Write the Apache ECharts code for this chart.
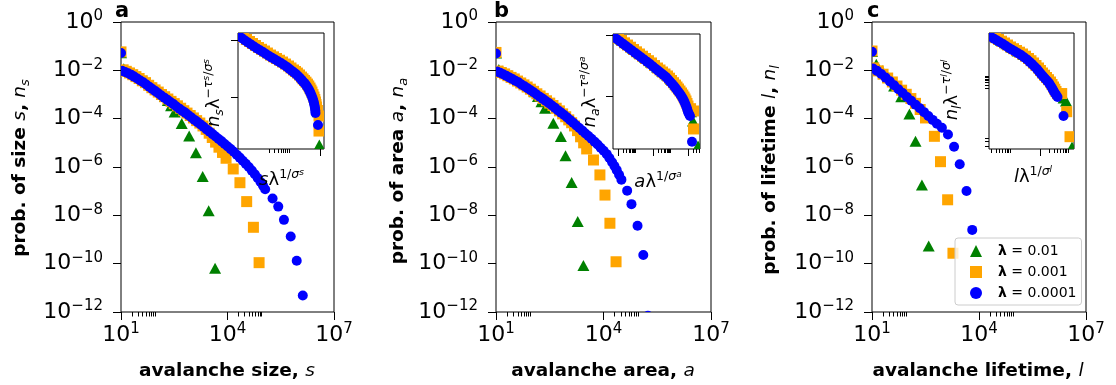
<!DOCTYPE html>
<html>
<head>
<meta charset="utf-8">
<script src="https://cdn.jsdelivr.net/npm/echarts@6/dist/echarts.min.js"></script>
<style>
  html, body { margin: 0; padding: 0; background: #fff; }
  #chart { width: 1116px; height: 385px; }
</style>
</head>
<body>
<div id="chart"></div>
<script>
// ---------- avalanche distributions: [value, probability] ----------
// (a) size s
const sizeL01 = [[10, 5.4e-2], [12.0, 1.17e-2], [14.8, 1.02e-2], [18.2, 8.9e-3], [22.4, 7.6e-3], [27.5, 6.5e-3], [33.9, 5.4e-3], [41.7, 4.5e-3], [51.3, 3.6e-3], [63.1, 3.0e-3], [77.6, 2.4e-3], [95.5, 1.9e-3], [116, 1.51e-3], [141, 1.17e-3], [172, 8.3e-4], [209, 5.6e-4], [257, 3.4e-4], [324, 1.9e-4], [513, 6.3e-5], [832, 1.9e-5], [1290, 3.9e-6], [2000, 4.0e-7], [2950, 1.55e-8], [4470, 6.5e-11]];
const sizeL001 = [[10, 5.8e-2], [11.5, 1.05e-2], [14.1, 9.1e-3], [17.4, 7.8e-3], [21.4, 6.6e-3], [26.3, 5.5e-3], [32.4, 4.6e-3], [39.8, 3.7e-3], [49.0, 3.1e-3], [60.3, 2.4e-3], [74.1, 1.91e-3], [91.2, 1.55e-3], [112, 1.26e-3], [138, 1.0e-3], [170, 8.1e-4], [209, 6.5e-4], [257, 5.2e-4], [316, 4.2e-4], [389, 3.4e-4], [479, 2.7e-4], [589, 2.14e-4], [724, 1.70e-4], [891, 1.35e-4], [1096, 1.07e-4], [1350, 8.3e-5], [1660, 6.6e-5], [2040, 5.0e-5], [2510, 3.6e-5], [3050, 2.5e-5], [3720, 1.66e-5], [4620, 1.07e-5], [5750, 6.6e-6], [7240, 4.0e-6], [9120, 2.3e-6], [1.45e4, 8.3e-7], [2.24e4, 2.24e-7], [3.47e4, 3.7e-8], [5.37e4, 3.2e-9], [7.76e4, 1.10e-10]];
const sizeL0001 = [[10, 5.2e-2], [10.7, 9.5e-3], [13.0, 8.5e-3], [15.8, 7.6e-3], [19.3, 6.5e-3], [23.4, 5.5e-3], [28.5, 4.6e-3], [34.7, 3.8e-3], [42.2, 3.2e-3], [51.3, 2.6e-3], [62.4, 2.1e-3], [75.9, 1.7e-3], [92.3, 1.38e-3], [112, 1.12e-3], [136, 9.1e-4], [166, 7.4e-4], [202, 6.0e-4], [245, 4.9e-4], [299, 4.0e-4], [363, 3.2e-4], [442, 2.6e-4], [537, 2.1e-4], [653, 1.74e-4], [794, 1.38e-4], [966, 1.12e-4], [1175, 8.9e-5], [1430, 7.2e-5], [1738, 5.8e-5], [2110, 4.6e-5], [2570, 3.6e-5], [3130, 2.9e-5], [3800, 2.3e-5], [4620, 1.82e-5], [5620, 1.45e-5], [6840, 1.15e-5], [8320, 8.9e-6], [1.01e4, 7.1e-6], [1.23e4, 5.5e-6], [1.50e4, 4.3e-6], [1.82e4, 3.2e-6], [2.21e4, 2.45e-6], [2.69e4, 1.82e-6], [3.27e4, 1.35e-6], [3.98e4, 1.0e-6], [4.84e4, 7.1e-7], [5.89e4, 5.0e-7], [7.08e4, 3.5e-7], [8.51e4, 2.4e-7], [1.0e5, 1.7e-7], [1.15e5, 1.2e-7], [1.86e5, 5.0e-8], [2.69e5, 2.3e-8], [3.89e5, 6.5e-9], [6.03e5, 1.32e-9], [8.91e5, 1.32e-10], [1.32e6, 4.8e-12]];
// (b) area a
const areaL01 = [[10, 5.2e-2], [12.0, 1.07e-2], [14.8, 9.3e-3], [18.2, 8.1e-3], [22.4, 6.9e-3], [27.5, 5.9e-3], [33.9, 5.0e-3], [41.7, 4.2e-3], [51.3, 3.5e-3], [63.1, 2.8e-3], [77.6, 2.3e-3], [95.5, 1.82e-3], [119, 1.29e-3], [148, 8.3e-4], [186, 5.0e-4], [234, 2.7e-4], [398, 6.5e-5], [646, 1.82e-5], [871, 2.9e-6], [1290, 2.3e-7], [1910, 5.5e-9], [2750, 8.3e-11]];
const areaL001 = [[10, 5.5e-2], [11.5, 9.3e-3], [14.1, 8.1e-3], [17.4, 7.1e-3], [21.4, 6.0e-3], [26.3, 5.1e-3], [32.4, 4.4e-3], [39.8, 3.6e-3], [49.0, 3.0e-3], [60.3, 2.5e-3], [74.1, 2.04e-3], [91.2, 1.66e-3], [112, 1.35e-3], [138, 1.07e-3], [170, 8.7e-4], [209, 6.9e-4], [257, 5.5e-4], [316, 4.4e-4], [389, 3.5e-4], [479, 2.7e-4], [589, 2.1e-4], [724, 1.58e-4], [881, 1.20e-4], [1072, 8.9e-5], [1290, 6.8e-5], [1550, 5.0e-5], [1880, 3.2e-5], [2290, 1.78e-5], [2790, 1.0e-5], [3390, 5.6e-6], [5250, 1.95e-6], [7940, 4.7e-7], [1.10e4, 6.9e-8], [1.51e4, 4.7e-9], [2.24e4, 1.20e-10]];
const areaL0001 = [[10, 5.0e-2], [10.7, 8.9e-3], [13.0, 7.9e-3], [15.8, 6.9e-3], [19.3, 6.0e-3], [23.4, 5.1e-3], [28.5, 4.4e-3], [34.7, 3.7e-3], [42.2, 3.2e-3], [51.3, 2.6e-3], [62.4, 2.2e-3], [75.9, 1.82e-3], [92.3, 1.51e-3], [112, 1.23e-3], [136, 1.0e-3], [166, 8.1e-4], [202, 6.6e-4], [245, 5.4e-4], [299, 4.4e-4], [363, 3.5e-4], [442, 2.8e-4], [537, 2.2e-4], [653, 1.78e-4], [794, 1.41e-4], [966, 1.12e-4], [1175, 8.7e-5], [1430, 6.8e-5], [1738, 5.2e-5], [2110, 4.1e-5], [2570, 3.2e-5], [3130, 2.45e-5], [3800, 1.91e-5], [4620, 1.48e-5], [5620, 1.12e-5], [6840, 8.5e-6], [8320, 6.3e-6], [1.01e4, 4.7e-6], [1.23e4, 3.4e-6], [1.46e4, 2.34e-6], [1.74e4, 1.58e-6], [2.02e4, 1.10e-6], [2.34e4, 7.4e-7], [2.72e4, 4.8e-7], [3.16e4, 3.0e-7], [4.57e4, 1.05e-7], [6.03e4, 2.9e-8], [8.91e4, 3.7e-9], [1.29e5, 2.3e-10], [1.74e5, 7.0e-13]];
// (c) lifetime l
const lifeL01 = [[10, 6.0e-2], [13.2, 1.78e-2], [19.5, 9.5e-3], [28.2, 5.0e-3], [41.7, 2.24e-3], [66.1, 8.1e-4], [112, 1.55e-4], [166, 1.15e-5], [251, 1.82e-7], [389, 5.4e-10]];
const lifeL001 = [[10, 6.3e-2], [11.2, 1.26e-2], [15.1, 9.5e-3], [20.4, 6.9e-3], [27.5, 4.8e-3], [37.2, 3.3e-3], [50.1, 2.24e-3], [67.6, 1.51e-3], [91.2, 1.02e-3], [123, 6.8e-4], [166, 4.3e-4], [224, 2.4e-4], [316, 1.07e-4], [562, 1.86e-5], [832, 1.66e-6], [1320, 4.4e-8], [1860, 2.7e-10]];
const lifeL0001 = [[10, 5.9e-2], [10.7, 1.20e-2], [13.8, 9.5e-3], [18.2, 7.1e-3], [24.0, 5.0e-3], [31.6, 3.5e-3], [41.7, 2.4e-3], [55.0, 1.66e-3], [72.4, 1.15e-3], [95.5, 7.9e-4], [126, 5.5e-4], [166, 3.8e-4], [219, 2.7e-4], [288, 1.86e-4], [380, 1.29e-4], [501, 8.9e-5], [661, 6.2e-5], [912, 4.2e-5], [1350, 2.2e-5], [2000, 6.9e-6], [2880, 1.29e-6], [4470, 1.02e-7], [6460, 2.5e-9]];

// ---------- rescaled (collapsed) distributions shown in the insets ----------
const colSizeL01 = [[2.3e-3, 1.22], [3.6e-3, 1.03], [5.8e-3, 0.88], [9.2e-3, 0.75], [0.0146, 0.65], [0.023, 0.555], [0.037, 0.48], [0.058, 0.418], [0.092, 0.356], [0.136, 0.303], [0.185, 0.268], [0.25, 0.228], [0.315, 0.198], [0.395, 0.171], [0.48, 0.146], [0.56, 0.124], [0.65, 0.101], [0.73, 0.083], [0.80, 0.068], [0.85, 0.055], [0.95, 0.0144]];
const colSizeL001 = [[2.24e-3, 1.223], [2.82e-3, 1.119], [3.55e-3, 1.020], [4.47e-3, 0.941], [5.62e-3, 0.868], [7.08e-3, 0.801], [8.91e-3, 0.738], [0.01122, 0.687], [0.01414, 0.641], [0.01773, 0.591], [0.02244, 0.545], [0.02816, 0.507], [0.03546, 0.474], [0.04466, 0.442], [0.05621, 0.411], [0.0708, 0.379], [0.0891, 0.350], [0.1079, 0.323], [0.1308, 0.298], [0.1526, 0.280], [0.1773, 0.263], [0.2076, 0.2436], [0.2412, 0.2238], [0.2715, 0.2082], [0.3041, 0.1947], [0.3411, 0.1822], [0.3826, 0.1686], [0.423, 0.1562], [0.4645, 0.1437], [0.5015, 0.1322], [0.5408, 0.1223], [0.5846, 0.1103], [0.6306, 0.0999], [0.671, 0.0904], [0.708, 0.0817], [0.736, 0.0739], [0.764, 0.0667], [0.82, 0.058], [0.926, 0.0464], [0.926, 0.0253]];
const colSizeL0001 = [[2.00e-3, 1.175], [2.51e-3, 1.075], [3.16e-3, 0.980], [3.98e-3, 0.904], [5.01e-3, 0.834], [6.31e-3, 0.769], [7.94e-3, 0.709], [0.0100, 0.660], [0.0126, 0.616], [0.0158, 0.568], [0.0200, 0.524], [0.0251, 0.487], [0.0316, 0.455], [0.0398, 0.425], [0.0501, 0.395], [0.0631, 0.364], [0.0794, 0.336], [0.0962, 0.310], [0.1166, 0.286], [0.136, 0.269], [0.158, 0.253], [0.185, 0.234], [0.215, 0.215], [0.242, 0.200], [0.271, 0.187], [0.304, 0.175], [0.341, 0.162], [0.377, 0.150], [0.414, 0.138], [0.447, 0.127], [0.482, 0.1175], [0.521, 0.106], [0.562, 0.0960], [0.598, 0.0868], [0.631, 0.0785], [0.656, 0.0710], [0.681, 0.0641], [0.697, 0.0580], [0.708, 0.0524], [0.858, 0.0323]];
const colAreaL01 = [[7e-5, 0.96], [1.5e-4, 0.86], [3.2e-4, 0.73], [7e-4, 0.61], [1.6e-3, 0.51], [3.5e-3, 0.43], [7.6e-3, 0.36], [0.017, 0.3], [0.034, 0.255], [0.064, 0.22], [0.11, 0.186], [0.19, 0.157], [0.3, 0.133], [0.45, 0.115], [0.65, 0.098], [0.9, 0.083], [1.2, 0.068], [1.5, 0.055], [1.93, 0.0389], [3.73, 0.0152]];
const colAreaL001 = [[7.20e-5, 0.962], [1.068e-4, 0.885], [1.585e-4, 0.812], [2.351e-4, 0.744], [3.49e-4, 0.685], [5.18e-4, 0.630], [7.69e-4, 0.578], [1.140e-3, 0.530], [1.692e-3, 0.488], [2.511e-3, 0.449], [3.727e-3, 0.412], [5.53e-3, 0.379], [8.21e-3, 0.348], [0.01218, 0.3156], [0.01808, 0.2875], [0.02511, 0.2668], [0.0349, 0.2470], [0.04848, 0.2294], [0.06736, 0.2128], [0.0877, 0.1958], [0.1140, 0.1795], [0.1484, 0.1651], [0.1931, 0.1514], [0.2351, 0.1403], [0.2862, 0.1302], [0.349, 0.1207], [0.4251, 0.1119], [0.5043, 0.1038], [0.5907, 0.0962], [0.6736, 0.0893], [0.7686, 0.0827], [0.877, 0.0754], [1.0, 0.0685], [1.4, 0.062], [2.06, 0.0568], [2.06, 0.0288]];
const colAreaL0001 = [[5.91e-5, 0.927], [8.77e-5, 0.853], [1.301e-4, 0.782], [1.93e-4, 0.717], [2.865e-4, 0.660], [4.25e-4, 0.607], [6.31e-4, 0.557], [9.36e-4, 0.511], [1.389e-3, 0.470], [2.062e-3, 0.433], [3.06e-3, 0.397], [4.54e-3, 0.365], [6.74e-3, 0.335], [0.0100, 0.304], [0.01484, 0.277], [0.02062, 0.257], [0.02865, 0.238], [0.0398, 0.221], [0.0553, 0.205], [0.0720, 0.1886], [0.0936, 0.1729], [0.1218, 0.1591], [0.1585, 0.1459], [0.193, 0.1352], [0.235, 0.1254], [0.2865, 0.1163], [0.349, 0.1078], [0.414, 0.1000], [0.485, 0.0927], [0.553, 0.0860], [0.631, 0.0797], [0.720, 0.0726], [0.821, 0.0660], [0.912, 0.0601], [1.0, 0.0547], [1.141, 0.0507], [1.301, 0.0470], [1.693, 0.0178]];
const colLifeL01 = [[0.03, 280], [0.045, 200], [0.07, 145], [0.11, 105], [0.17, 78], [0.27, 57], [0.42, 41], [0.65, 28], [1.0, 18], [1.5, 10.5], [2.2, 6.4], [3.0, 4.0], [4.0, 2.7], [5.2, 1.8], [6.5, 1.3], [7.88, 0.991], [12.7, 0.01795]];
const colLifeL001 = [[0.0230, 287.4], [0.0292, 247.8], [0.03706, 211.8], [0.04702, 182.5], [0.05968, 156.0], [0.07567, 131.0], [0.09605, 110.1], [0.1219, 94.9], [0.1547, 81.1], [0.1963, 69.9], [0.2491, 59.8], [0.3161, 49.3], [0.4011, 40.4], [0.4892, 33.3], [0.5968, 27.3], [0.7274, 21.9], [0.8873, 17.67], [1.040, 14.18], [1.219, 11.39], [1.429, 9.40], [1.674, 7.69], [1.963, 6.35], [2.300, 5.19], [2.592, 4.18], [2.920, 3.36], [3.237, 2.77], [3.560, 2.27], [4.011, 1.874], [5.60, 1.9], [8.33, 0.390], [10.83, 0.0441]];
const colLifeL0001 = [[0.02043, 263.4], [0.02594, 227.1], [0.03291, 194.1], [0.04176, 167.3], [0.0530, 143.0], [0.0672, 120.1], [0.0853, 100.9], [0.1083, 87.0], [0.1374, 74.3], [0.1743, 64.1], [0.2212, 54.8], [0.2807, 45.2], [0.3562, 37.0], [0.4345, 30.5], [0.530, 25.0], [0.646, 20.1], [0.788, 16.2], [0.924, 13.0], [1.083, 10.44], [1.269, 8.62], [1.487, 7.05], [1.743, 5.82], [2.043, 4.76], [2.302, 3.83], [2.593, 3.08], [2.875, 2.54], [3.162, 2.08], [3.562, 1.718], [4.013, 1.405], [6.46, 0.268]];

// ---------- legend names and axis ticks ----------
const lambdaNames = ['λ = 0.01', 'λ = 0.001', 'λ = 0.0001'];
const xTicks = [1e1, 1e4, 1e7];
const yTicks = [1e0, 1e-2, 1e-4, 1e-6, 1e-8, 1e-10, 1e-12];
const xMinorTicks = [20, 30, 40, 50, 60, 70, 80, 90, 2e4, 3e4, 4e4, 5e4, 6e4, 7e4, 8e4, 9e4];
// inset axes: [min, max] and tick values
const insetXRange = [[1.85e-3, 1.36], [5.18e-5, 4.85], [0.01742, 14.87]];
const insetYRange = [[0.01225, 1.327], [0.01352, 1.038], [0.01507, 373]];
const insetXMajor = [[1], [1e-4, 1e-2, 1], [1]];
const insetXMinor = [
  [0.02, 0.03, 0.04, 0.05, 0.06, 0.07, 0.08, 0.09],
  [2e-4, 3e-4, 4e-4, 5e-4, 6e-4, 7e-4, 8e-4, 9e-4, 0.02, 0.03, 0.04, 0.05, 0.06, 0.07, 0.08, 0.09, 2, 3, 4],
  [0.02, 0.03, 0.04, 0.05, 0.06, 0.07, 0.08, 0.09, 2, 3, 4, 5, 6, 7, 8, 9]
];
const insetYMajor = [[1, 0.1], [1, 0.1], []];
const insetYMinor = [[], [], [0.02, 0.03, 0.04, 3, 4, 5, 6, 7, 8, 9]];

// ---------- drawing helpers ----------
const FONT = 'DejaVu Sans';
const COLORS = ['#008000', '#ffa500', '#0000ff'];
const SHAPES = ['triangle', 'square', 'circle'];

function marker(shape, cx, cy, color) {
  if (shape === 'circle') {
    return { type: 'circle', shape: { cx: cx, cy: cy, r: 5 }, style: { fill: color } };
  }
  if (shape === 'square') {
    return { type: 'rect', shape: { x: cx - 5.5, y: cy - 5.5, width: 11, height: 11 }, style: { fill: color } };
  }
  return { type: 'polygon', shape: { points: [[cx, cy - 5.5], [cx - 6, cy + 5.5], [cx + 6, cy + 5.5]] }, style: { fill: color } };
}

function pointSeries(data, k, axisIdx, z) {
  return {
    type: 'custom', name: lambdaNames[k], data: data,
    xAxisIndex: axisIdx, yAxisIndex: axisIdx, coordinateSystem: 'cartesian2d',
    clip: true, silent: true, z: z,
    itemStyle: { color: COLORS[k] },
    encode: { x: 0, y: 1 },
    renderItem: function (params, api) {
      const p = api.coord([api.value(0), api.value(1)]);
      return marker(SHAPES[k], p[0], p[1], COLORS[k]);
    }
  };
}

function tickSeries(values, axisIdx, dir, len, anchor) {
  return {
    type: 'custom', silent: true, clip: false, z: 6,
    xAxisIndex: axisIdx, yAxisIndex: axisIdx, coordinateSystem: 'cartesian2d',
    data: values.map(function (v) { return dir === 'x' ? [v, anchor] : [anchor, v]; }),
    encode: { x: 0, y: 1 },
    renderItem: function (params, api) {
      const p = api.coord([api.value(0), api.value(1)]);
      const x = Math.round(p[0]) + 0.5, y = Math.round(p[1]) + 0.5;
      const shape = dir === 'x'
        ? { x1: x, y1: y - 0.5, x2: x, y2: y - 0.5 + len }
        : { x1: x - 0.5 - len, y1: y, x2: x - 0.5, y2: y };
      return { type: 'line', shape: shape, style: { stroke: '#000', lineWidth: 1 } };
    }
  };
}

function powerLabel(v) {
  const e = Math.round(Math.log10(v));
  return '{b|10}{s|' + (e < 0 ? '\u2212' + (-e) : e) + '}';
}
const tickRich = {
  b: { fontFamily: FONT, fontSize: 22, lineHeight: 26, color: '#000' },
  s: { fontFamily: FONT, fontSize: 15, lineHeight: 15, verticalAlign: 'top', color: '#000' }
};

// ---------- layout ----------
const mainGrids = [
  { left: 121, top: 22, width: 213, height: 290 },
  { left: 496, top: 22, width: 215, height: 290 },
  { left: 872, top: 22, width: 214, height: 290 }
];
const insetGrids = [
  { left: 238, top: 33, width: 86, height: 116 },
  { left: 613, top: 34, width: 87, height: 115 },
  { left: 989, top: 33, width: 85, height: 116 }
];

const grid = [];
const xAxis = [];
const yAxis = [];
mainGrids.forEach(function (g, i) {
  grid.push(Object.assign({ show: true, borderColor: '#000', borderWidth: 1, backgroundColor: 'transparent', z: 0 }, g));
  xAxis.push({
    type: 'log', gridIndex: i, min: xTicks[0], max: xTicks[xTicks.length - 1], interval: 3,
    axisLine: { show: false }, splitLine: { show: false },
    axisTick: { show: true, length: 8, lineStyle: { color: '#000', width: 1 } },
    axisLabel: { margin: 10, formatter: powerLabel, rich: tickRich, showMinLabel: true, showMaxLabel: true, hideOverlap: false }
  });
  yAxis.push({
    type: 'log', gridIndex: i, min: yTicks[yTicks.length - 1], max: yTicks[0], interval: 2,
    axisLine: { show: false }, splitLine: { show: false },
    axisTick: { show: true, length: 8, lineStyle: { color: '#000', width: 1 } },
    axisLabel: { margin: 18, formatter: powerLabel, rich: tickRich, showMinLabel: true, showMaxLabel: true, hideOverlap: false }
  });
});
insetGrids.forEach(function (g, i) {
  grid.push(Object.assign({ show: true, borderColor: '#000', borderWidth: 1, backgroundColor: '#fff', z: 4 }, g));
  const hidden = { axisLine: { show: false }, axisTick: { show: false }, axisLabel: { show: false }, splitLine: { show: false } };
  xAxis.push(Object.assign({ type: 'log', gridIndex: 3 + i, min: insetXRange[i][0], max: insetXRange[i][1] }, hidden));
  yAxis.push(Object.assign({ type: 'log', gridIndex: 3 + i, min: insetYRange[i][0], max: insetYRange[i][1] }, hidden));
});

// ---------- series ----------
const series = [];
const mainSets = [[sizeL01, sizeL001, sizeL0001], [areaL01, areaL001, areaL0001], [lifeL01, lifeL001, lifeL0001]];
const insetSets = [[colSizeL01, colSizeL001, colSizeL0001], [colAreaL01, colAreaL001, colAreaL0001], [colLifeL01, colLifeL001, colLifeL0001]];
mainSets.forEach(function (sets, i) {
  sets.forEach(function (d, k) { series.push(pointSeries(d, k, i, 2)); });
  series.push(tickSeries(xMinorTicks, i, 'x', 4.5, yTicks[yTicks.length - 1]));
});
insetSets.forEach(function (sets, i) {
  const ai = 3 + i;
  sets.forEach(function (d, k) { series.push(pointSeries(d, k, ai, 5)); });
  series.push(tickSeries(insetXMajor[i], ai, 'x', 7, insetYRange[i][0]));
  series.push(tickSeries(insetXMinor[i], ai, 'x', 4, insetYRange[i][0]));
  series.push(tickSeries(insetYMajor[i], ai, 'y', 7, insetXRange[i][0]));
  series.push(tickSeries(insetYMinor[i], ai, 'y', 4, insetXRange[i][0]));
});

// ---------- text ----------
const axisRich = {
  b: { fontFamily: FONT, fontWeight: 'bold', fontSize: 18.5, lineHeight: 24, fill: '#000' },
  i: { fontFamily: FONT, fontStyle: 'italic', fontSize: 18.5, lineHeight: 24, fill: '#000' },
  sub: { fontFamily: FONT, fontStyle: 'italic', fontSize: 13, lineHeight: 14, verticalAlign: 'bottom', fill: '#000' }
};
const insetRich = {
  m: { fontFamily: FONT, fontStyle: 'italic', fontSize: 18, lineHeight: 24, fill: '#000' },
  g: { fontFamily: FONT, fontSize: 18, lineHeight: 24, fill: '#000' },
  sub: { fontFamily: FONT, fontStyle: 'italic', fontSize: 12.5, lineHeight: 14, verticalAlign: 'bottom', fill: '#000' },
  up: { fontFamily: FONT, fontSize: 12.5, lineHeight: 14, verticalAlign: 'top', fill: '#000' },
  upm: { fontFamily: FONT, fontStyle: 'italic', fontSize: 12.5, lineHeight: 14, verticalAlign: 'top', fill: '#000' },
  upsub: { fontFamily: FONT, fontStyle: 'italic', fontSize: 9, lineHeight: 24, verticalAlign: 'top', fill: '#000' }
};
function text(x, y, str, rich, vertical) {
  return {
    type: 'text', x: x, y: y, rotation: vertical ? Math.PI / 2 : 0, z: 10, silent: true,
    style: { text: str, rich: rich, align: 'center', verticalAlign: 'middle', fill: '#000' }
  };
}
function letter(x, str) {
  return {
    type: 'text', x: x, y: 11.5, z: 10, silent: true,
    style: { text: str, fontFamily: FONT, fontWeight: 'bold', fontSize: 21, align: 'left', verticalAlign: 'middle', fill: '#000' }
  };
}
const graphic = [
  letter(115, 'a'), letter(494, 'b'), letter(867, 'c'),
  text(20, 168, '{b|prob. of size }{i|s}{b|, }{i|n}{sub|s}', axisRich, true),
  text(398.5, 171, '{b|prob. of area }{i|a}{b|, }{i|n}{sub|a}', axisRich, true),
  text(770.5, 170, '{b|prob. of lifetime }{i|l}{b|, }{i|n}{sub|l}', axisRich, true),
  text(227, 371, '{b|avalanche size, }{i|s}', axisRich, false),
  text(603, 371, '{b|avalanche area, }{i|a}', axisRich, false),
  text(978, 371, '{b|avalanche lifetime, }{i|l}', axisRich, false),
  text(281.5, 180, '{m|s}{g|λ}{up|1/}{upm|σ}{upsub|s}', insetRich, false),
  text(658, 182, '{m|a}{g|λ}{up|1/}{upm|σ}{upsub|a}', insetRich, false),
  text(1033, 177, '{m|l}{g|λ}{up|1/}{upm|σ}{upsub|l}', insetRich, false),
  text(214, 93, '{m|n}{sub|s}{g|λ}{up|\u2212}{upm|τ}{upsub|s}{up|/}{upm|σ}{upsub|s}', insetRich, true),
  text(590, 92, '{m|n}{sub|a}{g|λ}{up|\u2212}{upm|τ}{upsub|a}{up|/}{upm|σ}{upsub|a}', insetRich, true),
  text(952, 90, '{m|n}{sub|l}{g|λ}{up|\u2212}{upm|τ}{upsub|l}{up|/}{upm|σ}{upsub|l}', insetRich, true)
];

const chart = echarts.init(document.getElementById('chart'), null, { renderer: 'canvas' });
chart.setOption({
  animation: false,
  backgroundColor: '#fff',
  grid: grid,
  xAxis: xAxis,
  yAxis: yAxis,
  series: series,
  graphic: graphic,
  legend: {
    data: lambdaNames.map(function (n, k) { return { name: n, icon: ['triangle', 'rect', 'circle'][k] }; }),
    orient: 'vertical', left: 955, top: 238,
    padding: [5, 5, 4, 15],
    itemWidth: 12, itemHeight: 12, itemGap: 5,
    backgroundColor: 'rgba(255,255,255,0.8)', borderColor: '#cccccc', borderWidth: 1, borderRadius: 3,
    selectedMode: false, z: 8,
    formatter: function (name) { return '{l|λ}{t|' + name.slice(1) + '}'; },
    textStyle: {
      fontFamily: FONT, fontSize: 14, color: '#000', lineHeight: 16, padding: [0, 0, 0, 11],
      rich: {
        l: { fontFamily: FONT, fontSize: 14, fontWeight: 'bold', lineHeight: 16, color: '#000' },
        t: { fontFamily: FONT, fontSize: 14, lineHeight: 16, color: '#000' }
      }
    }
  }
});
</script>
</body>
</html>
